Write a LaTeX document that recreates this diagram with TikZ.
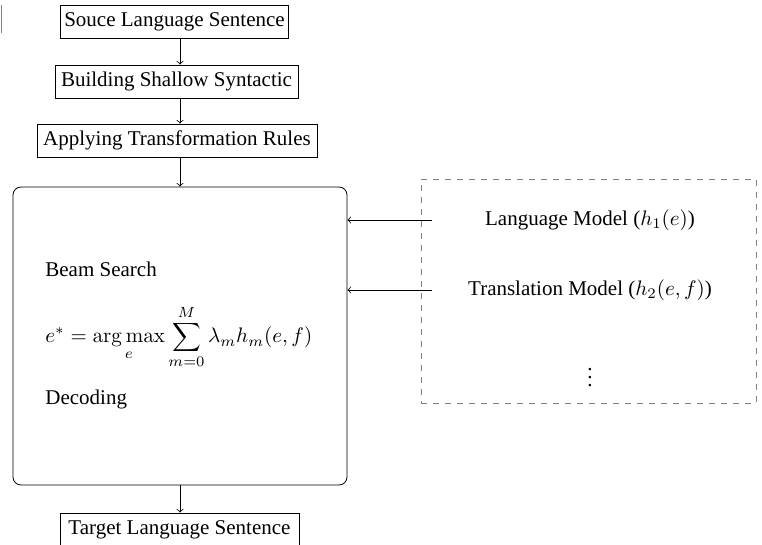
\RequirePackage{fix-cm}
\documentclass[tikz,border=0pt]{standalone}
\usepackage[no-math]{fontspec}
\setmainfont{Liberation Serif}
\begin{document}
\begin{tikzpicture}[x=0.5pt,y=-0.5pt,
  every node/.style={font=\fontsize{10.5}{12.6}\selectfont},
  box/.style={draw, minimum height=16.5pt, inner xsep=3pt},
  plain/.style={inner sep=0pt},
  arr/.style={->}]
\clip (0,0) rectangle (762,545);
\draw[gray] (1,5) -- (1,33);
\node[box, minimum width=112pt, inner xsep=1.8pt] (src) at (174.5,21.5) {Souce Language Sentence};
\node[box, minimum width=119.5pt] (shallow) at (176.5,81.5) {Building Shallow Syntactic};
\node[box, minimum width=140pt] (rules) at (177,140.5) {Applying Transformation Rules};
\node[draw, rounded corners=4pt, minimum width=167pt, minimum height=149pt] (main) at (180,336) {};
\node[plain, anchor=base west] (beam) at (45,277) {Beam Search};
\node[plain, anchor=west] (eq) at (45,337) {$\displaystyle e^*=\mathop{\arg\max}\limits_e\sum_{m=0}^{M}\lambda_m h_m(e,f)$};
\node[plain, anchor=base west] (dec) at (45,405) {Decoding};
\node[box, minimum width=119.5pt] (tgt) at (179.5,529.5) {Target Language Sentence};
\node[draw=gray, dashed, minimum width=167.5pt, minimum height=112pt] (models) at (588.5,291) {};
\node[minimum width=158pt] (lm) at (590,220) {Language Model ($h_1(e)$)};
\node[minimum width=158pt] (tm) at (590,290) {Translation Model ($h_2(e,f)$)};
\node (dots) at (590,372) {$\vdots$};
\draw[arr] (src.south -| main.north) -- (shallow.north -| main.north);
\draw[arr] (shallow.south -| main.north) -- (rules.north -| main.north);
\draw[arr] (rules.south -| main.north) -- (main.north);
\draw[arr] (main.south) -- (tgt.north -| main.south);
\draw[arr] (lm.west) -- (lm.west -| main.east);
\draw[arr] (tm.west) -- (tm.west -| main.east);
\end{tikzpicture}
\end{document}
